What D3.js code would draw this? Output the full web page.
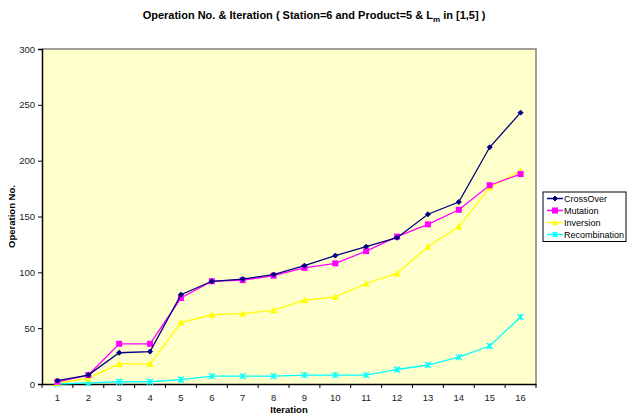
<!DOCTYPE html>
<html><head><meta charset="utf-8">
<script src="https://cdn.jsdelivr.net/npm/d3@7"></script>
<style>body{margin:0;background:#fff}svg{display:block;font-family:"Liberation Sans",Arial,sans-serif}</style>
</head><body><svg id="c" width="627" height="415"></svg>
<script>
const iterations = [1,2,3,4,5,6,7,8,9,10,11,12,13,14,15,16];
const crossOver = [3,8,28,29,80,92,94,98,106,115,123,131,152,163,212,243];
const mutation = [2,8,36,36,77,92,93,97,104,108,119,132,143,156,178,188];
const inversion = [1,5,18,18,55,62,63,66,75,78,90,99,123,141,176,191];
const recombination = [0,1,2,2,4,7,7,7,8,8,8,13,17,24,34,60];
const yTicks = [0,50,100,150,200,250,300];
const seriesNames = ["CrossOver","Mutation","Inversion","Recombination"];

const series = [
  {name:seriesNames[0], values:crossOver, color:"#000080", marker:"diamond"},
  {name:seriesNames[1], values:mutation, color:"#FF00FF", marker:"square"},
  {name:seriesNames[2], values:inversion, color:"#FFFF00", marker:"triangle"},
  {name:seriesNames[3], values:recombination, color:"#00FFFF", marker:"x"}
];

const svg = d3.select("#c");
const L=42, T=49, R=536, B=384;
const x = d3.scaleBand().domain(iterations).range([L,R]);
const y = d3.scaleLinear().domain([0,300]).range([B,T]);

svg.append("rect").attr("x",L).attr("y",T).attr("width",R-L).attr("height",B-T).attr("fill","#FFFFCC");
svg.append("path").attr("d",`M${L},${T}H${R}V${B}`).attr("fill","none").attr("stroke","#808080").attr("stroke-width",1.5);

// y axis
const ya = svg.append("g").attr("transform",`translate(${L},0)`)
  .call(d3.axisLeft(y).tickValues(yTicks).tickSize(4).tickPadding(3));
ya.select(".domain").attr("stroke","#000").attr("stroke-width",1.5);
ya.selectAll("text").attr("font-size",9.5).attr("fill","#222").attr("font-family","Liberation Sans, Arial, sans-serif");
// x axis
const xa = svg.append("g").attr("transform",`translate(0,${B})`)
  .call(d3.axisBottom(x).tickSize(0).tickPadding(10));
xa.select(".domain").attr("stroke","#000").attr("stroke-width",1.5);
xa.selectAll("text").attr("font-size",9.5).attr("fill","#222").attr("font-family","Liberation Sans, Arial, sans-serif");
// category boundary ticks
svg.append("g").selectAll("line").data(d3.range(iterations.length+1)).join("line")
  .attr("x1",i=>L+i*x.step()).attr("x2",i=>L+i*x.step())
  .attr("y1",B).attr("y2",B+4).attr("stroke","#000");

const cx = d=>x(d)+x.bandwidth()/2;
const line = d3.line().x((v,i)=>cx(iterations[i])).y(v=>y(v));

function marker(g, type, color, px, py, s){
  if(type==="diamond"){
    g.append("path").attr("d",`M${px},${py-s}L${px+s},${py}L${px},${py+s}L${px-s},${py}Z`).attr("fill",color).attr("stroke",color);
  } else if(type==="square"){
    g.append("rect").attr("x",px-s).attr("y",py-s).attr("width",2*s).attr("height",2*s).attr("fill",color);
  } else if(type==="triangle"){
    g.append("path").attr("d",`M${px},${py-s-0.5}L${px+s+0.5},${py+s}L${px-s-0.5},${py+s}Z`).attr("fill",color);
  } else {
    g.append("path").attr("d",`M${px-s},${py-s}L${px+s},${py+s}M${px-s},${py+s}L${px+s},${py-s}M${px},${py-s}V${py+s}`).attr("stroke",color).attr("stroke-width",1.2).attr("fill","none");
  }
}

// draw in reverse so CrossOver on top
[...series].reverse().forEach(s=>{
  const g = svg.append("g");
  g.append("path").attr("d",line(s.values)).attr("fill","none").attr("stroke",s.color).attr("stroke-width",1.3);
  s.values.forEach((v,i)=>{
    const sz = s.marker==="square"?3:(s.marker==="diamond"?2.5:3);
    marker(g, s.marker, s.color, cx(iterations[i]), y(v), sz);
  });
});

// title
const title = svg.append("text").attr("x",314).attr("y",19).attr("text-anchor","middle")
  .attr("font-size",11).attr("font-weight","bold").attr("fill","#000");
title.append("tspan").text("Operation No. & Iteration ( Station=6 and Product=5 & L");
title.append("tspan").attr("font-size",8).attr("dy",2.5).text("m");
title.append("tspan").attr("dy",-2.5).text(" in [1,5] )");

svg.append("text").attr("x",(L+R)/2).attr("y",413).attr("text-anchor","middle").attr("font-size",9.5).attr("font-weight","bold").text("Iteration");
svg.append("text").attr("transform",`translate(15,${(T+B)/2}) rotate(-90)`).attr("text-anchor","middle").attr("font-size",9.5).attr("font-weight","bold").text("Operation No.");

// legend
const lg = svg.append("g");
lg.append("rect").attr("x",543).attr("y",192).attr("width",83).attr("height",49.5).attr("fill","#fff").attr("stroke","#000").attr("stroke-width",1);
series.forEach((s,i)=>{
  const ly = 198.5+i*12;
  lg.append("line").attr("x1",547).attr("x2",563).attr("y1",ly).attr("y2",ly).attr("stroke",s.color).attr("stroke-width",1.5);
  marker(lg, s.marker, s.color, 555, ly, s.marker==="square"?3:2.5);
  lg.append("text").attr("x",564).attr("y",ly+3.5).attr("font-size",9).attr("fill","#000").text(s.name);
});
</script></body></html>
